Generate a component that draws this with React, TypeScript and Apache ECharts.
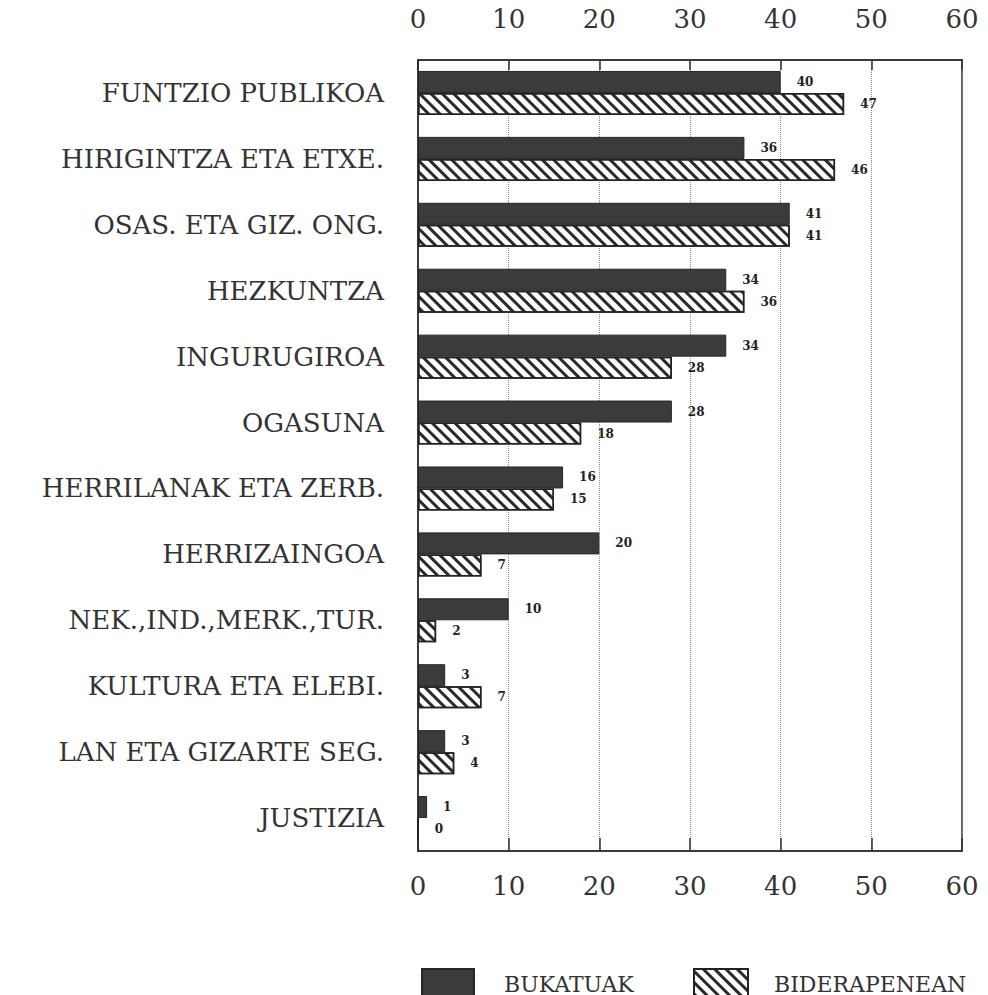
import React, { useEffect, useRef } from "react";
import * as echarts from "echarts";

const categories = [
  "FUNTZIO PUBLIKOA",
  "HIRIGINTZA ETA ETXE.",
  "OSAS. ETA GIZ. ONG.",
  "HEZKUNTZA",
  "INGURUGIROA",
  "OGASUNA",
  "HERRILANAK ETA ZERB.",
  "HERRIZAINGOA",
  "NEK.,IND.,MERK.,TUR.",
  "KULTURA ETA ELEBI.",
  "LAN ETA GIZARTE SEG.",
  "JUSTIZIA",
];
const bukatuak = [40, 36, 41, 34, 34, 28, 16, 20, 10, 3, 3, 1];
const biderapenean = [47, 46, 41, 36, 28, 18, 15, 7, 2, 7, 4, 0];
const seriesNames = ["BUKATUAK", "BIDERAPENEAN"];
const axisMin = 0;
const axisMax = 60;
const axisStep = 10;

const INK = "#2e2e2e";
const SERIF = "DejaVu Serif";

export default function App() {
  const ref = useRef<HTMLDivElement>(null);
  useEffect(() => {
    if (!ref.current) return;
    const chart = echarts.init(ref.current, null, { renderer: "svg" });
    const valueLabel = {
      show: true,
      position: "right" as const,
      distance: 16,
      fontSize: 12,
      fontWeight: "bold" as const,
      fontFamily: SERIF,
      color: "#222",
    };
    const xAxisBase = {
      type: "value" as const,
      min: axisMin,
      max: axisMax,
      interval: axisStep,
      axisLine: { show: true, lineStyle: { color: INK, width: 1.5 } },
      axisLabel: { fontSize: 26, fontFamily: SERIF, color: "#333" },
    };
    chart.setOption({
      animation: false,
      backgroundColor: "#ffffff",
      grid: {
        left: 418,
        right: 26,
        top: 60,
        bottom: 144,
        show: true,
        borderColor: INK,
        borderWidth: 1.5,
      },
      xAxis: [
        {
          ...xAxisBase,
          position: "top",
          axisTick: { show: true, inside: true, length: 10, lineStyle: { color: INK, width: 1.5 } },
          axisLabel: { ...xAxisBase.axisLabel, margin: 28 },
          splitLine: { show: true, lineStyle: { type: "dotted", color: "#8a8a8a", width: 1 } },
        },
        {
          ...xAxisBase,
          position: "bottom",
          axisTick: { show: true, inside: true, length: 13, lineStyle: { color: INK, width: 1.5 } },
          axisLabel: { ...xAxisBase.axisLabel, margin: 22 },
          splitLine: { show: false },
        },
      ],
      yAxis: {
        type: "category",
        data: categories,
        inverse: true,
        axisLine: { show: true, lineStyle: { color: INK, width: 1.5 } },
        axisTick: { show: false },
        axisLabel: { fontSize: 26, fontFamily: SERIF, color: "#333", margin: 34 },
      },
      legend: [
        {
          data: [seriesNames[0]],
          left: 416,
          top: 963,
          icon: "rect",
          itemWidth: 52,
          itemHeight: 30,
          textStyle: { fontSize: 22, fontFamily: SERIF, color: "#333", padding: [4, 0, 0, 25] },
        },
        {
          data: [seriesNames[1]],
          left: 688,
          top: 963,
          icon: "rect",
          itemWidth: 54,
          itemHeight: 30,
          textStyle: { fontSize: 22, fontFamily: SERIF, color: "#333", padding: [4, 0, 0, 21] },
        },
      ],
      series: [
        {
          name: seriesNames[0],
          type: "bar",
          xAxisIndex: 0,
          data: bukatuak,
          barWidth: 22,
          barGap: "0%",
          itemStyle: { color: "#3b3b3b", borderColor: "#262626", borderWidth: 1 },
          label: valueLabel,
        },
        {
          name: seriesNames[1],
          type: "bar",
          xAxisIndex: 0,
          data: biderapenean,
          barWidth: 22,
          barGap: "0%",
          itemStyle: {
            color: "#ffffff",
            borderColor: "#222",
            borderWidth: 1.5,
            decal: {
              symbol: "rect",
              symbolSize: 1,
              dashArrayX: [1, 0],
              dashArrayY: [2.2, 4.2],
              rotation: Math.PI / 4,
              color: "#2a2a2a",
            },
          },
          label: valueLabel,
        },
      ],
    });
    return () => chart.dispose();
  }, []);
  return (
    <div
      ref={ref}
      style={{ position: "absolute", left: 0, top: 0, width: 988, height: 995 }}
    />
  );
}
